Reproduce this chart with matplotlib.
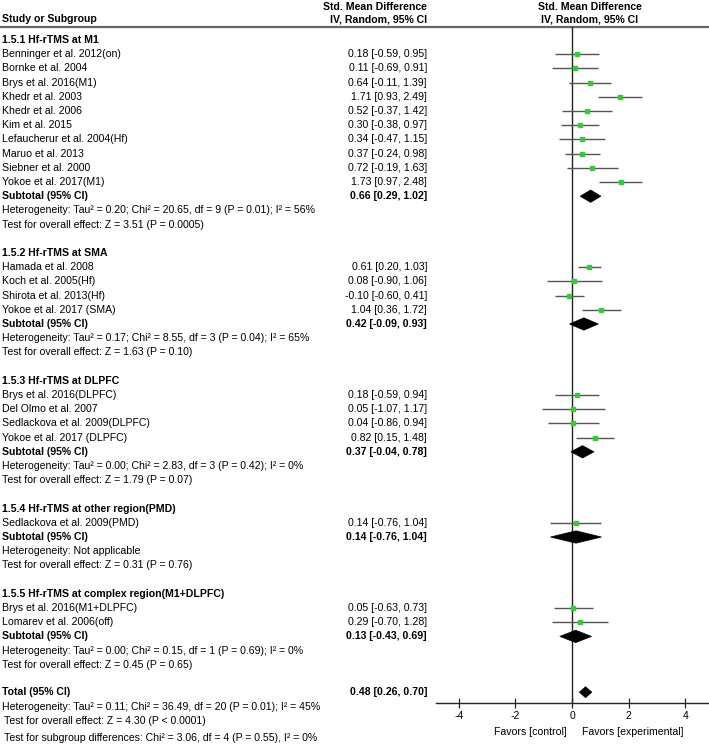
import matplotlib
matplotlib.use("Agg")
import matplotlib.pyplot as plt
from matplotlib.patches import Polygon

plt.rcParams['font.family'] = ['Liberation Sans', 'DejaVu Sans']

# ---------------- data ----------------
group_titles = ["1.5.1 Hf-rTMS at M1", "1.5.2 Hf-rTMS at SMA", "1.5.3 Hf-rTMS at DLPFC",
                "1.5.4 Hf-rTMS at other region(PMD)", "1.5.5 Hf-rTMS at complex region(M1+DLPFC)"]

m1_names = ["Benninger et al. 2012(on)", "Bornke et al. 2004", "Brys et al. 2016(M1)", "Khedr et al. 2003",
            "Khedr et al. 2006", "Kim et al. 2015", "Lefaucherur et al. 2004(Hf)", "Maruo et al. 2013",
            "Siebner et al. 2000", "Yokoe et al. 2017(M1)"]
m1_smd = [0.18, 0.11, 0.64, 1.71, 0.52, 0.30, 0.34, 0.37, 0.72, 1.73]
m1_lo = [-0.59, -0.69, -0.11, 0.93, -0.37, -0.38, -0.47, -0.24, -0.19, 0.97]
m1_hi = [0.95, 0.91, 1.39, 2.49, 1.42, 0.97, 1.15, 0.98, 1.63, 2.48]

sma_names = ["Hamada et al. 2008", "Koch et al. 2005(Hf)", "Shirota et al. 2013(Hf)", "Yokoe et al. 2017 (SMA)"]
sma_smd = [0.61, 0.08, -0.10, 1.04]
sma_lo = [0.20, -0.90, -0.60, 0.36]
sma_hi = [1.03, 1.06, 0.41, 1.72]

dl_names = ["Brys et al. 2016(DLPFC)", "Del Olmo et al. 2007", "Sedlackova et al. 2009(DLPFC)", "Yokoe et al. 2017 (DLPFC)"]
dl_smd = [0.18, 0.05, 0.04, 0.82]
dl_lo = [-0.59, -1.07, -0.86, 0.15]
dl_hi = [0.94, 1.17, 0.94, 1.48]

pmd_names = ["Sedlackova et al. 2009(PMD)"]
pmd_smd = [0.14]
pmd_lo = [-0.76]
pmd_hi = [1.04]

cx_names = ["Brys et al. 2016(M1+DLPFC)", "Lomarev et al. 2006(off)"]
cx_smd = [0.05, 0.29]
cx_lo = [-0.63, -0.70]
cx_hi = [0.73, 1.28]

sub_smd = [0.66, 0.42, 0.37, 0.14, 0.13]
sub_lo = [0.29, -0.09, -0.04, -0.76, -0.43]
sub_hi = [1.02, 0.93, 0.78, 1.04, 0.69]

het_texts = ["Heterogeneity: Tau\u00b2 = 0.20; Chi\u00b2 = 20.65, df = 9 (P = 0.01); I\u00b2 = 56%",
             "Heterogeneity: Tau\u00b2 = 0.17; Chi\u00b2 = 8.55, df = 3 (P = 0.04); I\u00b2 = 65%",
             "Heterogeneity: Tau\u00b2 = 0.00; Chi\u00b2 = 2.83, df = 3 (P = 0.42); I\u00b2 = 0%",
             "Heterogeneity: Not applicable",
             "Heterogeneity: Tau\u00b2 = 0.00; Chi\u00b2 = 0.15, df = 1 (P = 0.69); I\u00b2 = 0%"]
z_texts = ["Test for overall effect: Z = 3.51 (P = 0.0005)",
           "Test for overall effect: Z = 1.63 (P = 0.10)",
           "Test for overall effect: Z = 1.79 (P = 0.07)",
           "Test for overall effect: Z = 0.31 (P = 0.76)",
           "Test for overall effect: Z = 0.45 (P = 0.65)"]

total_smd, total_lo, total_hi = 0.48, 0.26, 0.70
total_het = "Heterogeneity: Tau\u00b2 = 0.11; Chi\u00b2 = 36.49, df = 20 (P = 0.01); I\u00b2 = 45%"
total_z = "Test for overall effect: Z = 4.30 (P < 0.0001)"
subgroup_diff = "Test for subgroup differences: Chi\u00b2 = 3.06, df = 4 (P = 0.55), I\u00b2 = 0%"

xticks = [-4, -2, 0, 2, 4]

groups = [(m1_names, m1_smd, m1_lo, m1_hi), (sma_names, sma_smd, sma_lo, sma_hi),
          (dl_names, dl_smd, dl_lo, dl_hi), (pmd_names, pmd_smd, pmd_lo, pmd_hi),
          (cx_names, cx_smd, cx_lo, cx_hi)]

# ---------------- layout ----------------
W, H = 709, 746
fig = plt.figure(figsize=(W / 100, H / 100), dpi=100)
tax = fig.add_axes([0, 0, 1, 1])
tax.set_xlim(0, W)
tax.set_ylim(H, 0)
tax.axis('off')

FS = 7.6
X0 = 2
XE = 427
Y0 = 40.0
DY = 14.2

AX_L, AX_R = 436, 709
AX_TOP, AX_BOT = 27, 703
PX0 = 572.0
PXU = 28.3
fax = fig.add_axes([AX_L / W, 1 - AX_BOT / H, (AX_R - AX_L) / W, (AX_BOT - AX_TOP) / H])
fax.set_ylim(AX_BOT, AX_TOP)
fax.set_xlim((AX_L - PX0) / PXU, (AX_R - PX0) / PXU)
fax.patch.set_alpha(0)
for s in ['top', 'right', 'left']:
    fax.spines[s].set_visible(False)
fax.spines['bottom'].set_linewidth(1.0)
fax.spines['bottom'].set_color('#222222')
fax.set_yticks([])
fax.set_xticks(xticks)
fax.set_xticklabels([str(t) for t in xticks], fontsize=FS)
fax.tick_params(axis='x', direction='inout', length=7, width=0.9, color='#222222', pad=2)
fax.axvline(0, color='#222222', lw=1.0, zorder=1)

# header
tax.text(XE, 7, "Std. Mean Difference", ha='right', va='center', fontsize=FS, fontweight='bold')
tax.text(XE, 19, "IV, Random, 95% CI", ha='right', va='center', fontsize=FS, fontweight='bold')
tax.text(X0, 19, "Study or Subgroup", ha='left', va='center', fontsize=FS, fontweight='bold')
tax.text(590, 7, "Std. Mean Difference", ha='center', va='center', fontsize=FS, fontweight='bold')
tax.text(590, 19, "IV, Random, 95% CI", ha='center', va='center', fontsize=FS, fontweight='bold')
tax.plot([0, W], [27, 27], color='#666666', lw=1.6, solid_capstyle='butt')


def diamond(ax, y, m, lo, hi, h=6.2):
    ax.add_patch(Polygon([(lo, y), (m, y - h), (hi, y), (m, y + h)], closed=True,
                         facecolor='black', edgecolor='black', lw=0.5, zorder=3))


def fmt(m, lo, hi):
    return f"{m:.2f} [{lo:.2f}, {hi:.2f}]"


r = 0
for gi, (names, smd, lo, hi) in enumerate(groups):
    y = Y0 + DY * r
    tax.text(X0, y, group_titles[gi], ha='left', va='center', fontsize=FS, fontweight='bold')
    r += 1
    for n, m, l, h in zip(names, smd, lo, hi):
        y = Y0 + DY * r
        tax.text(X0, y, n, ha='left', va='center', fontsize=FS)
        tax.text(XE, y, fmt(m, l, h), ha='right', va='center', fontsize=FS)
        fax.plot([l, h], [y, y], color='#555555', lw=1.0, zorder=2, solid_capstyle='butt')
        fax.plot([m], [y], marker='s', ms=2.4, color='#33cc33', mec='#33cc33', zorder=4)
        r += 1
    y = Y0 + DY * r
    tax.text(X0, y, "Subtotal (95% CI)", ha='left', va='center', fontsize=FS, fontweight='bold')
    tax.text(XE, y, fmt(sub_smd[gi], sub_lo[gi], sub_hi[gi]), ha='right', va='center', fontsize=FS, fontweight='bold')
    diamond(fax, y, sub_smd[gi], sub_lo[gi], sub_hi[gi])
    r += 1
    tax.text(X0, Y0 + DY * r, het_texts[gi], ha='left', va='center', fontsize=FS)
    r += 1
    tax.text(X0, Y0 + DY * r, z_texts[gi], ha='left', va='center', fontsize=FS)
    r += 2

y = Y0 + DY * r - 1
tax.text(X0, y, "Total (95% CI)", ha='left', va='center', fontsize=FS, fontweight='bold')
tax.text(XE, y, fmt(total_smd, total_lo, total_hi), ha='right', va='center', fontsize=FS, fontweight='bold')
diamond(fax, y, total_smd, total_lo, total_hi, h=5.5)
tax.text(X0, y + 14.5, total_het, ha='left', va='center', fontsize=FS)
tax.text(X0 + 2, y + 29, total_z, ha='left', va='center', fontsize=FS)
tax.text(X0 + 2, y + 46, subgroup_diff, ha='left', va='center', fontsize=FS)

tax.text(PX0 - 5, 732, "Favors [control]", ha='right', va='center', fontsize=FS)
tax.text(PX0 + 10, 732, "Favors [experimental]", ha='left', va='center', fontsize=FS)

fig.savefig("out.png", dpi=100)
